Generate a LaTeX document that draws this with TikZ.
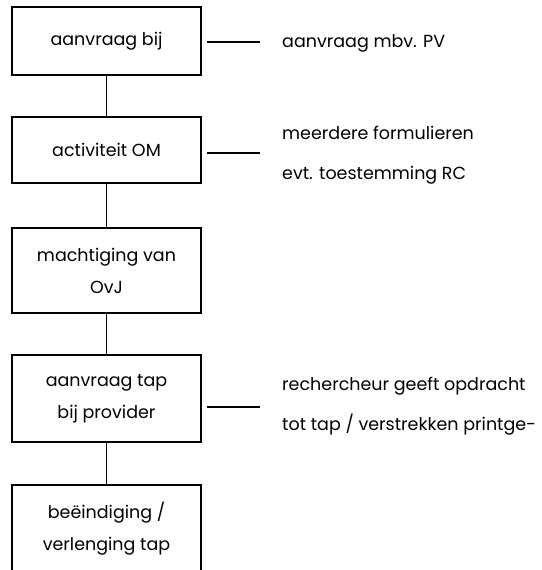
\documentclass[tikz,border=0pt]{standalone}
\usepackage{fontspec}
\setmainfont{Poppins}
\begin{document}
\begin{tikzpicture}[x=1pt,y=-1pt,
  box/.style={draw,line width=1.2pt,minimum width=189pt,inner sep=0pt,align=center,font=\fontsize{17.5}{32}\selectfont},
  note/.style={anchor=west,inner sep=0pt,align=left,font=\fontsize{17.5}{40}\selectfont},
  link/.style={line width=1.2pt}]
\useasboundingbox (0,0) rectangle (541,570);
\clip (0,0) rectangle (541,570);
\node[box,minimum height=68pt] (b1) at (106.5,41) {aanvraag bij};
\node[box,minimum height=66pt] (b2) at (106.5,150) {activiteit OM};
\node[box,minimum height=85pt] (b3) at (106.5,270.5) {machtiging van\\OvJ};
\node[box,minimum height=87pt] (b4) at (106.5,398.5) {aanvraag tap\\bij provider};
\node[box,minimum height=110pt] (b5) at (106.5,540) {};
\node[font=\fontsize{17.5}{32}\selectfont,align=center] (t5) at (106.5,529) {beëindiging /\\verlenging tap};
\draw[link] (b1) -- (b2);
\draw[link] (b2) -- (b3);
\draw[link] (b3) -- (b4);
\draw[link] (b4) -- (b5);
\coordinate (l1a) at (207,42); \coordinate (l1b) at (260,42);
\coordinate (l2a) at (207,153); \coordinate (l2b) at (260,153);
\coordinate (l4a) at (207,407); \coordinate (l4b) at (260,407);
\draw[link] (l1a) -- (l1b);
\draw[link] (l2a) -- (l2b);
\draw[link] (l4a) -- (l4b);
\node[note] (n1) at (282,43) {aanvraag mbv. PV};
\node[note] (n2) at (282,155) {meerdere formulieren\\evt. toestemming RC};
\node[note] (n4) at (282,406) {rechercheur geeft opdracht\\tot tap / verstrekken printge-};
\end{tikzpicture}
\end{document}
